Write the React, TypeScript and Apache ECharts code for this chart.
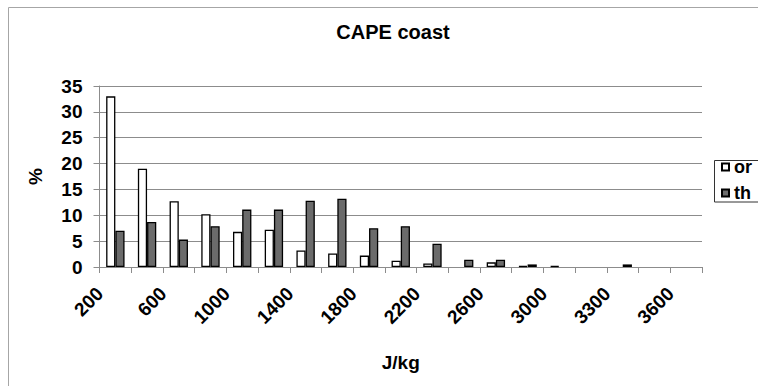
import React, { useEffect, useRef } from "react";
import * as echarts from "echarts";

// CAPE bins (J/kg) and the share of cases (%) in each bin
const categories = [
  "200", "400", "600", "800", "1000", "1200", "1400", "1600", "1800", "2000",
  "2200", "2400", "2600", "2800", "3000", "3150", "3300", "3450", "3600",
];
const orValues = [33, 19, 12.7, 10.2, 6.8, 7.2, 3.2, 2.6, 2.2, 1.2, 0.7, 0, 0.9, 0.2, 0.2, 0, 0, 0, 0];
const thValues = [7.0, 8.7, 5.3, 7.9, 11.1, 11.1, 12.8, 13.2, 7.5, 7.9, 4.5, 1.4, 1.4, 0.5, 0, 0, 0.5, 0, 0];
const yTicks = { min: 0, max: 35, interval: 5 };

const FONT = "'Liberation Sans', Arial, sans-serif";

// empty bins get no bar at all
const asBars = (vals: number[]) => vals.map((v) => (v === 0 ? null : v));

export default function App() {
  const ref = useRef<HTMLDivElement>(null);

  useEffect(() => {
    if (!ref.current) return;
    const chart = echarts.init(ref.current, null, { renderer: "svg" });
    chart.setOption({
      animation: false,
      backgroundColor: "#fff",
      textStyle: { fontFamily: FONT },
      title: {
        text: "CAPE coast",
        left: 388,
        textAlign: "center",
        top: 17,
        textStyle: { fontSize: 20, fontWeight: "bold", color: "#000", fontFamily: FONT },
      },
      graphic: [
        {
          type: "rect",
          shape: { x: 8.5, y: 7.5, width: 800, height: 420 },
          style: { fill: "none", stroke: "#a6a6a6", lineWidth: 1 },
          silent: true,
          z: -1,
        },
        {
          type: "rect",
          shape: { x: 714.5, y: 160.5, width: 80, height: 41.5 },
          style: { fill: "none", stroke: "#333", lineWidth: 1 },
          silent: true,
          z: 10,
        },
      ],
      legend: {
        orient: "vertical",
        left: 721,
        top: 158,
        padding: 0,
        itemGap: 8,
        itemWidth: 7,
        itemHeight: 7,
        icon: "rect",
        textStyle: { fontSize: 18, fontWeight: "bold", color: "#000", fontFamily: FONT },
        data: ["or", "th"],
      },
      grid: { left: 99.5, right: 56, top: 86, bottom: 119, containLabel: false },
      xAxis: {
        type: "category",
        data: categories,
        name: "J/kg",
        nameLocation: "middle",
        nameGap: 86,
        nameTextStyle: { fontSize: 19, fontWeight: "bold", color: "#000", fontFamily: FONT },
        axisLine: { lineStyle: { color: "#8c8c8c", width: 1 } },
        axisTick: { show: true, interval: 0, length: 6, lineStyle: { color: "#8c8c8c" } },
        axisLabel: {
          interval: 1,
          rotate: 45,
          margin: 8,
          padding: [0, 22, 0, 0],
          fontSize: 19,
          fontWeight: "bold",
          color: "#000",
          fontFamily: FONT,
        },
        splitLine: { show: false },
      },
      yAxis: {
        type: "value",
        min: yTicks.min,
        max: yTicks.max,
        interval: yTicks.interval,
        name: "%",
        nameLocation: "middle",
        nameGap: 55,
        nameTextStyle: { fontSize: 19, fontWeight: "bold", color: "#000", fontFamily: FONT },
        axisLine: { show: true, lineStyle: { color: "#8c8c8c", width: 1 } },
        axisTick: { show: true, length: 6, lineStyle: { color: "#8c8c8c" } },
        axisLabel: { margin: 17, fontSize: 19, fontWeight: "bold", color: "#000", fontFamily: FONT },
        splitLine: { show: true, lineStyle: { color: "#8c8c8c", width: 1 } },
      },
      series: [
        {
          name: "or",
          type: "bar",
          data: asBars(orValues),
          barGap: "0%",
          barCategoryGap: "42%",
          itemStyle: { color: "#ffffff", borderColor: "#000", borderWidth: 1.3 },
        },
        {
          name: "th",
          type: "bar",
          data: asBars(thValues),
          barGap: "0%",
          barCategoryGap: "42%",
          itemStyle: { color: "#6b6b6b", borderColor: "#000", borderWidth: 1.3 },
        },
      ],
    });
    return () => chart.dispose();
  }, []);

  return (
    <div
      ref={ref}
      style={{ position: "absolute", left: 0, top: 0, width: 758, height: 386, background: "#fff" }}
    />
  );
}
